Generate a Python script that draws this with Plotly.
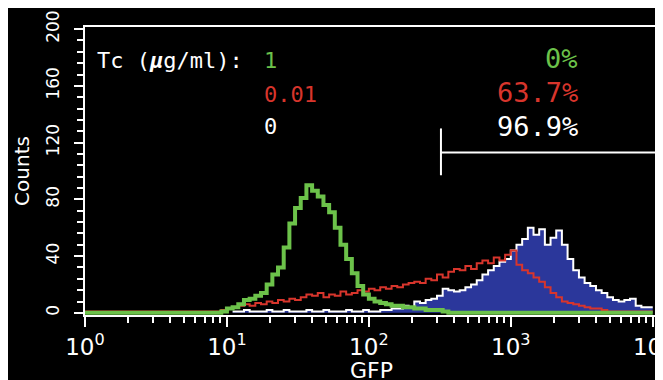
import numpy as np
import plotly.graph_objects as go

# ---- data: histogram counts on a log GFP scale (100 bins, 10^0 .. 10^4) ----
n_bins = 100
decades = 4.0

tc_labels = ["1", "0.01", "0"]
pct_labels = ["0%", "63.7%", "96.9%"]

counts_tc1 = [0]*24 + [
    1, 3, 4, 6, 9, 10, 12, 14, 20, 27, 32, 46, 63, 74, 81, 90,
    86, 82, 76, 71, 60, 48, 38, 28, 19, 13, 10, 8, 7, 6, 5, 5,
    4, 4, 3, 3, 2, 2, 2, 1] + [0]*36

counts_tc001 = [1]*24 + [
    2, 3, 4, 5, 6, 5, 7, 6, 8, 7, 9, 8, 10, 9, 11, 13,
    12, 14, 11, 13, 12, 15, 13, 14, 16, 15, 17, 16, 18, 17, 19, 18,
    20, 21, 22, 21, 24, 23, 27, 25, 29, 31, 30, 33, 31, 35, 37, 35,
    39, 37, 41, 44, 34, 30, 28, 25, 22, 18, 14, 11, 8, 7, 6, 5,
    4, 3, 3, 2] + [1]*8

counts_tc0 = [None]*26 + [
    1, 1, 2, 1, 1, 1, 2, 1, 1, 2, 1, 1, 1, 2, 1, 1,
    2, 1, 1, 1, 2, 1, 1, 2, 1, 1, 2, 2, 3, 3, 5, 4,
    8, 7, 9, 10, 12, 17, 16, 15, 16, 18, 20, 23, 27, 30, 33, 36,
    38, 44, 48, 52, 60, 55, 59, 48, 53, 58, 48, 38, 30, 25, 21, 19,
    16, 14, 11, 9, 8, 9, 10, 5, 4, 4]

gate_low = 322      # GFP threshold of the positive gate
gate_count = 113    # height at which the gate marker is drawn
x_max_log = 4.03

# ---- build ----
edges = np.linspace(0, decades, n_bins + 1)
x_left = list(10 ** edges[:-1]) + [10 ** edges[-1]]

def stepped(vals):
    return list(vals) + [vals[-1]]

fig = go.Figure()
fig.add_trace(go.Scatter(
    x=x_left, y=stepped(counts_tc0), mode="lines", line_shape="hv",
    line=dict(color="white", width=2), fill="tozeroy",
    fillcolor="#2b379b", hoverinfo="skip"))
fig.add_trace(go.Scatter(
    x=x_left, y=stepped(counts_tc001), mode="lines", line_shape="hv",
    line=dict(color="#d8352c", width=2), hoverinfo="skip"))
fig.add_trace(go.Scatter(
    x=x_left, y=stepped(counts_tc1), mode="lines", line_shape="hv",
    line=dict(color="#6cc24a", width=4), hoverinfo="skip"))

font_fam = "DejaVu Sans, sans-serif"
mono = "DejaVu Sans Mono, Liberation Mono, monospace"

# gate marker
fig.add_shape(type="line", xref="x", yref="y", x0=gate_low, x1=10 ** x_max_log,
              y0=gate_count, y1=gate_count, line=dict(color="white", width=2))
fig.add_shape(type="line", xref="x", yref="y", x0=gate_low, x1=gate_low,
              y0=gate_count - 16, y1=gate_count + 17, line=dict(color="white", width=2))

# annotations
fig.add_annotation(text="Tc (<i><b>μ</b></i>g/ml):", xref="paper", yref="paper",
                   x=0.018, y=0.885, xanchor="left", yanchor="middle", showarrow=False,
                   font=dict(color="white", size=22, family=mono))
label_colors = ["#6cc24a", "#d8352c", "white"]
label_y = [0.885, 0.764, 0.653]
for t, c, yy in zip(tc_labels, label_colors, label_y):
    fig.add_annotation(text=t, xref="paper", yref="paper", x=0.31, y=yy,
                       xanchor="left", yanchor="middle", showarrow=False,
                       font=dict(color=c, size=22, family=mono))
for t, c, yy in zip(pct_labels, label_colors, [0.892, 0.774, 0.653]):
    fig.add_annotation(text=t, xref="paper", yref="paper", x=0.866, y=yy,
                       xanchor="right", yanchor="middle", showarrow=False,
                       font=dict(color=c, size=27, family=mono))

fig.add_annotation(text="GFP", xref="paper", yref="paper", x=0.5, y=-0.193,
                   xanchor="center", yanchor="middle", showarrow=False,
                   font=dict(color="white", size=22, family=font_fam))

minor_vals = [m * 10 ** d for d in range(4) for m in range(2, 10)]

# page body has an 8 px default margin, so size/margins are offset by it
fig.update_layout(
    width=655, height=372,
    paper_bgcolor="black", plot_bgcolor="black",
    margin=dict(l=77, r=6, t=19, b=65, autoexpand=False),
    showlegend=False,
    font=dict(family=font_fam, color="white"),
    xaxis=dict(
        type="log", range=[0, x_max_log], showgrid=False, zeroline=False,
        automargin=False,
        showline=True, linecolor="white", linewidth=2, mirror=True,
        tickvals=[1, 10, 100, 1000, 10000],
        ticktext=["10<sup>0</sup>", "10<sup>1</sup>", "10<sup>2</sup>",
                  "10<sup>3</sup>", "10<sup>4</sup>"],
        ticklabeloverflow="allow",
        ticks="outside", ticklen=10, tickwidth=2, tickcolor="white",
        tickfont=dict(size=23, color="white", family=font_fam),
        minor=dict(tickvals=minor_vals, ticks="outside", ticklen=6,
                   tickwidth=2, tickcolor="white"),
    ),
    yaxis=dict(
        range=[-1.5, 201.5], showgrid=False, zeroline=False,
        automargin=False,
        showline=True, linecolor="white", linewidth=2, mirror=True,
        tickvals=[0, 40, 80, 120, 160, 200], tickangle=-90,
        ticklabeloverflow="allow",
        ticks="outside", ticklen=9, tickwidth=2, tickcolor="white",
        ticklabelstandoff=8,
        tickfont=dict(size=17, color="white", family=font_fam),
        minor=dict(dtick=8, ticks="outside", ticklen=6, tickwidth=2,
                   tickcolor="white"),
        title=dict(text="Counts", font=dict(size=20, color="white", family=font_fam),
                   standoff=8),
    ),
)

fig.write_html("out.html")
